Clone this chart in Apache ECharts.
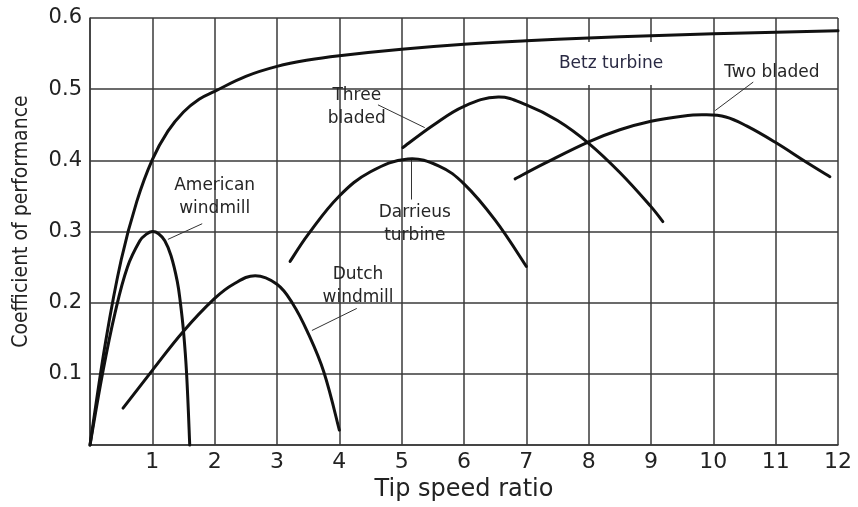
<!DOCTYPE html>
<html>
<head>
<meta charset="utf-8">
<script src="https://cdn.jsdelivr.net/npm/echarts@6/dist/echarts.min.js"></script>
<style>
html,body{margin:0;padding:0;background:#fff;}
#chart{width:858px;height:507px;}
</style>
</head>
<body>
<div id="chart"></div>
<script>
// ---- data (tip speed ratio, coefficient of performance) ----
const betz = [[0,0],[0.25,0.145],[0.5,0.26],[0.75,0.342],[1,0.401],[1.25,0.441],[1.5,0.468],[1.75,0.486],[2,0.497],[2.5,0.518],[3,0.532],[3.5,0.541],[4,0.547],[5,0.556],[6,0.563],[7,0.568],[8,0.572],[9,0.575],[10,0.578],[11,0.58],[12,0.582]];
const american = [[0,0],[0.2,0.1],[0.4,0.185],[0.6,0.25],[0.8,0.287],[0.9,0.296],[1.0,0.3],[1.1,0.297],[1.2,0.287],[1.3,0.266],[1.4,0.23],[1.45,0.2],[1.5,0.16],[1.55,0.1],[1.6,0]];
const dutch = [[0.53,0.052],[1,0.105],[1.5,0.16],[2,0.206],[2.3,0.226],[2.65,0.238],[3,0.226],[3.25,0.199],[3.5,0.157],[3.75,0.103],[4,0.021]];
const darrieus = [[3.21,0.258],[3.5,0.296],[4,0.35],[4.5,0.384],[5.1,0.402],[5.6,0.392],[6,0.367],[6.5,0.316],[7,0.251]];
const threeBladed = [[5.02,0.418],[5.5,0.449],[6,0.476],[6.55,0.489],[7,0.478],[7.5,0.456],[8,0.424],[8.5,0.383],[9,0.335],[9.19,0.314]];
const twoBladed = [[6.82,0.374],[7.3,0.396],[8,0.426],[8.5,0.443],[9,0.455],[9.5,0.462],[9.84,0.464],[10.2,0.461],[10.54,0.448],[11,0.425],[11.5,0.397],[11.87,0.377]];

const xTickLabels = ['', '1','2','3','4','5','6','7','8','9','10','11','12'];
const yTickLabels = ['', '0.1','0.2','0.3','0.4','0.5','0.6'];

// annotation texts and their anchor points (data coordinates)
const annotationTexts = ['American\nwindmill', 'Dutch\nwindmill', 'Three\nbladed', 'Darrieus\nturbine', 'Two bladed'];
const annotationAnchors = [[2.0,0.349],[4.3,0.223],[4.28,0.475],[5.21,0.311],[10.94,0.523]];
const betzLabel = 'Betz turbine';
const betzAnchor = [8.36,0.536];
// leader lines (from text to curve)
const leaderLines = [
  [[1.80,0.311],[1.25,0.289]],
  [[4.28,0.192],[3.56,0.161]],
  [[4.62,0.478],[5.37,0.446]],
  [[5.15,0.401],[5.15,0.345]],
  [[10.64,0.51],[10.03,0.47]]
];

const FONT = 'DejaVu Sans';

// smooth curve drawn through the data points, positioned by the axes (api.coord)
function curve(name, data){
  return {
    name, type:'custom', data, z:5, silent:true,
    encode:{x:0, y:1},
    renderItem:function(params, api){
      if (params.dataIndex !== 0) return null;
      const p = data.map(d => api.coord(d));
      const s = 0.4;
      const n = p.length;
      const tan = p.map((pt,i)=>{
        const a = p[Math.max(i-1,0)], b = p[Math.min(i+1,n-1)];
        return [b[0]-a[0], b[1]-a[1]];
      });
      const dist = (a,b)=>Math.hypot(a[0]-b[0], a[1]-b[1]);
      let d = 'M' + p[0][0] + ' ' + p[0][1];
      for (let i=0;i<n-1;i++){
        const a = p[i], b = p[i+1];
        const dPrevA = i>0 ? dist(p[i-1],a) : 0;
        const dAB = dist(a,b);
        const dBNext = i+2<n ? dist(b,p[i+2]) : 0;
        const ra = i>0 ? s*dAB/(dPrevA+dAB) : s*0.5;
        const rb = i+2<n ? s*dAB/(dAB+dBNext) : s*0.5;
        const c1 = [a[0]+tan[i][0]*ra, a[1]+tan[i][1]*ra];
        const c2 = [b[0]-tan[i+1][0]*rb, b[1]-tan[i+1][1]*rb];
        d += ' C' + c1[0] + ' ' + c1[1] + ' ' + c2[0] + ' ' + c2[1] + ' ' + b[0] + ' ' + b[1];
      }
      return {
        type:'path',
        shape:{pathData:d},
        style:{fill:'none', stroke:'#111', lineWidth:3, lineCap:'round', lineJoin:'round'}
      };
    }
  };
}

const chart = echarts.init(document.getElementById('chart'), null, {renderer:'canvas'});
chart.setOption({
  animation:false,
  backgroundColor:'#fff',
  grid:{left:90, right:20, top:18, bottom:61},
  xAxis:{
    type:'value', min:0, max:12, interval:1,
    name:'Tip speed ratio', nameLocation:'middle', nameGap:31,
    nameTextStyle:{fontFamily:FONT, fontSize:24, color:'#222'},
    axisLine:{show:true, lineStyle:{color:'#3a3a3a', width:1.5}},
    axisTick:{show:false},
    axisLabel:{margin:6, fontFamily:FONT, fontSize:22, color:'#222', showMaxLabel:true, showMinLabel:true,
      formatter:(v)=>xTickLabels[Math.round(v)] || ''},
    splitLine:{show:true, lineStyle:{color:'#3a3a3a', width:1.5}}
  },
  yAxis:{
    type:'value', min:0, max:0.6, interval:0.1,
    name:'Coefficient of performance', nameLocation:'middle', nameGap:58,
    nameTextStyle:{fontFamily:'DejaVu Sans Condensed', fontSize:21, color:'#222', padding:[0,0,0,20]},
    axisLine:{show:true, lineStyle:{color:'#3a3a3a', width:1.5}},
    axisTick:{show:false},
    axisLabel:{margin:8, fontFamily:FONT, fontSize:21, color:'#222',
      formatter:(v)=>yTickLabels[Math.round(v*10)] || ''},
    splitLine:{show:true, lineStyle:{color:'#3a3a3a', width:1.5}}
  },
  series:[
    curve('Betz turbine', betz),
    curve('American windmill', american),
    curve('Dutch windmill', dutch),
    curve('Darrieus turbine', darrieus),
    curve('Three bladed', threeBladed),
    curve('Two bladed', twoBladed),
    {
      type:'scatter', symbol:'circle', symbolSize:1, z:6, silent:true,
      itemStyle:{color:'rgba(0,0,0,0)'},
      data: annotationTexts.map((t,i)=>({value:annotationAnchors[i], name:t})),
      label:{show:true, position:'inside', formatter:(p)=>p.name, fontFamily:FONT, fontSize:17,
        color:'#262626', opacity:1, lineHeight:23, align:'center', verticalAlign:'middle'},
      labelLayout:{hideOverlap:false},
      markLine:{
        silent:true, symbol:['none','none'], animation:false,
        label:{show:false},
        lineStyle:{color:'#333', width:1, type:'solid'},
        data: leaderLines.map(l=>[{coord:l[0]},{coord:l[1]}])
      }
    },
    {
      type:'scatter', symbol:'circle', symbolSize:1, z:7, silent:true,
      itemStyle:{color:'rgba(0,0,0,0)'},
      data:[{value:betzAnchor, name:betzLabel}],
      label:{show:true, position:'inside', formatter:(p)=>p.name, fontFamily:FONT, fontSize:17,
        color:'#2a2a44', opacity:1, backgroundColor:'#fff', padding:[13,16], align:'center', verticalAlign:'middle'}
    }
  ]
});
</script>
</body>
</html>
